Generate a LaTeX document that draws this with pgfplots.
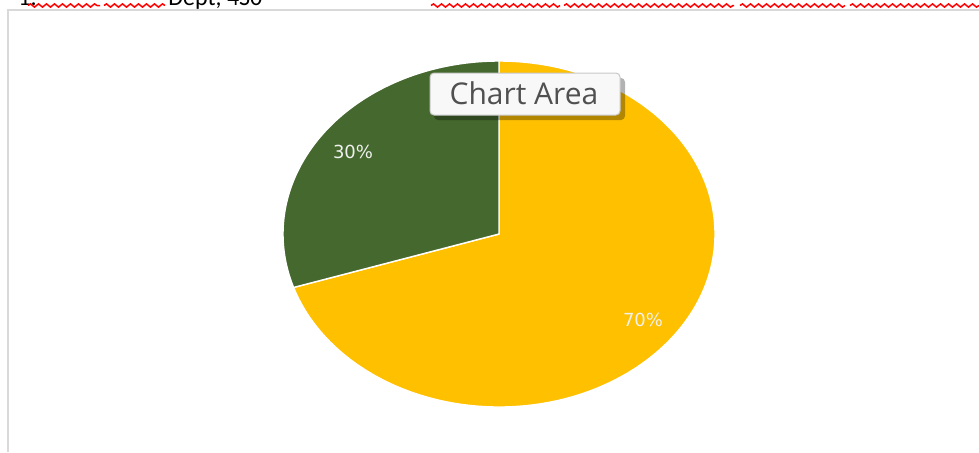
\documentclass[border=0pt]{standalone}
\usepackage{pgfplots}
\pgfplotsset{compat=1.18}
\usepackage{pgfplotstable}
\usepackage{fontspec}
\setmainfont{Carlito}
\newfontfamily\tipfont{Open Sans}
\newfontfamily\labfont{DejaVu Sans}
\usetikzlibrary{decorations.pathmorphing}

\definecolor{pieyellow}{HTML}{FFC000}
\definecolor{piegreen}{HTML}{44682D}
\definecolor{framegray}{HTML}{D9D9D9}
\definecolor{tipfill}{HTML}{F8F8F8}
\definecolor{tipedge}{HTML}{C8C8C8}
\definecolor{tiptext}{HTML}{505050}

% pie values (percent), in Excel order: first slice starts at 12 o'clock, clockwise
\pgfplotstableread{
share lx  ly
70    643 320
30    353 152
}\piedata

\tikzset{squiggle/.style={red, line width=0.75pt, decorate,
  decoration={snake, amplitude=0.8pt, segment length=4pt}}}

\begin{document}
\begin{tikzpicture}
  \pgfplotstablegetelem{0}{share}\of\piedata \edef\sA{\pgfplotsretval}
  \pgfplotstablegetelem{1}{share}\of\piedata \edef\sB{\pgfplotsretval}
  \pgfplotstablegetelem{0}{lx}\of\piedata \edef\lxA{\pgfplotsretval}
  \pgfplotstablegetelem{0}{ly}\of\piedata \edef\lyA{\pgfplotsretval}
  \pgfplotstablegetelem{1}{lx}\of\piedata \edef\lxB{\pgfplotsretval}
  \pgfplotstablegetelem{1}{ly}\of\piedata \edef\lyB{\pgfplotsretval}
  \pgfmathsetmacro{\angA}{90-3.6*\sA}
  \pgfmathsetmacro{\angB}{90+3.6*\sB}
\begin{axis}[
  width=489.5pt, height=226pt, scale only axis,
  xmin=0, xmax=979, ymin=0, ymax=452,
  y dir=reverse,
  hide axis,
  clip=true,
]
  % chart area frame (partly out of view)
  \draw[framegray, line width=1pt] (axis cs:8,452) -- (axis cs:8,10) -- (axis cs:979,10);

  % document text cut at the top, with spelling squiggles
  \node[anchor=base west, font=\large, inner sep=0pt] at (axis cs:18,5) {1.};
  \node[anchor=base west, font=\large, inner sep=0pt] at (axis cs:168,5) {Dept, 4S0};
  \draw[squiggle] (axis cs:28,5.5) -- (axis cs:100,5.5);
  \draw[squiggle] (axis cs:104,5.5) -- (axis cs:165,5.5);
  \draw[squiggle] (axis cs:431,5.5) -- (axis cs:560,5.5);
  \draw[squiggle] (axis cs:564,5.5) -- (axis cs:734,5.5);
  \draw[squiggle] (axis cs:740,5.5) -- (axis cs:845,5.5);
  \draw[squiggle] (axis cs:850,5.5) -- (axis cs:979,5.5);

  % pie slices
  \filldraw[fill=pieyellow, draw=white, line width=0.7pt]
    (axis cs:499,234) -- ++(0pt,86.5pt)
    arc[start angle=90, end angle=\angA, x radius=108pt, y radius=86.5pt] -- cycle;
  \filldraw[fill=piegreen, draw=white, line width=0.7pt]
    (axis cs:499,234) -- ++(0pt,86.5pt)
    arc[start angle=90, end angle=\angB, x radius=108pt, y radius=86.5pt] -- cycle;

  % data labels
  \node[white!94!black, font=\labfont\fontsize{9}{10}\selectfont] at (axis cs:\lxA,\lyA) {\sA\%};
  \node[white!94!black, font=\labfont\fontsize{9}{10}\selectfont] at (axis cs:\lxB,\lyB) {\sB\%};

  % tooltip
  \fill[black, opacity=0.3, rounded corners=2pt] (axis cs:434,78) rectangle (axis cs:625,120);
  \filldraw[fill=tipfill, draw=tipedge, line width=0.5pt, rounded corners=2pt]
    (axis cs:430,73) rectangle (axis cs:620,115);
  \node[tiptext, font=\tipfont\fontsize{15}{17}\selectfont] at (axis cs:524,93) {Chart Area};
\end{axis}
\pgfresetboundingbox
\useasboundingbox (current axis.south west) rectangle (current axis.north east);
\end{tikzpicture}
\end{document}
